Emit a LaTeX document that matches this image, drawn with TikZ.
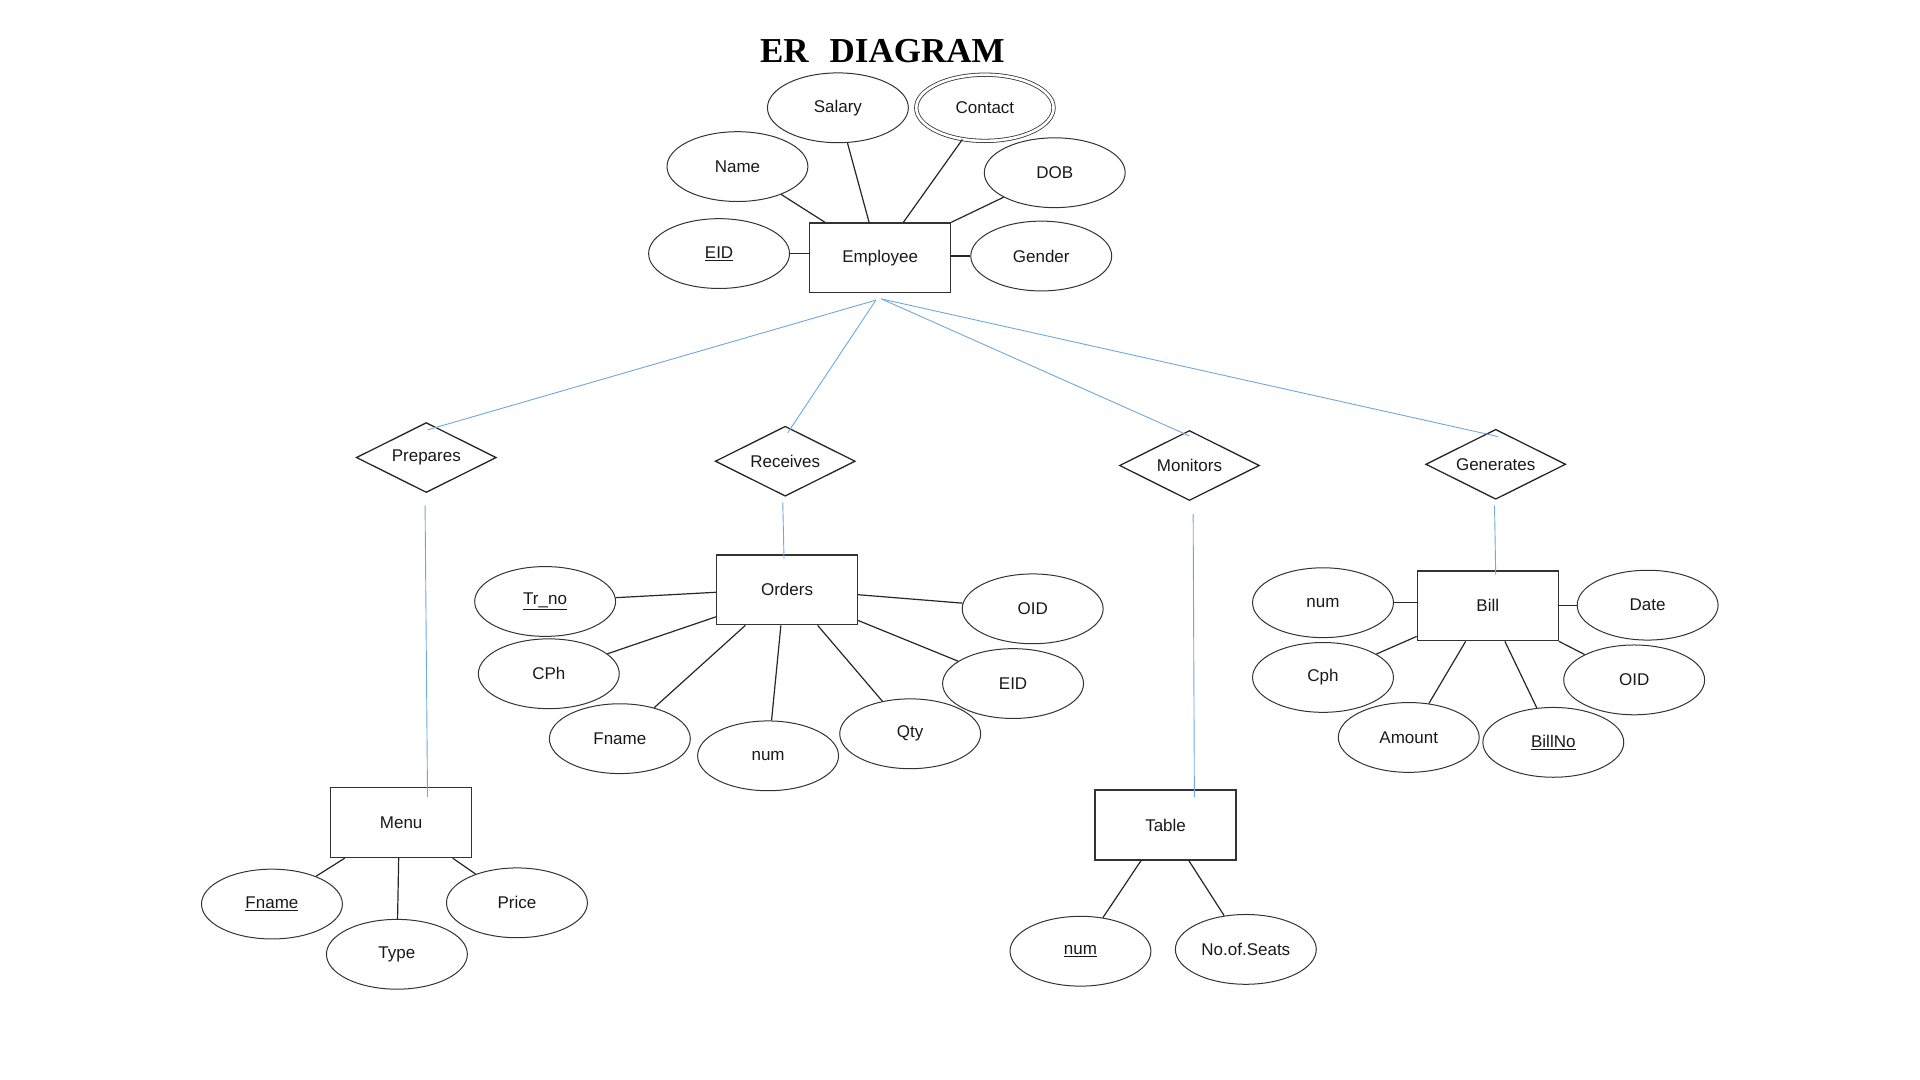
\documentclass[tikz,border=0pt]{standalone}
\usepackage{fontspec}
\setmainfont{Liberation Sans}
\newfontfamily\titlefont{Liberation Serif}
\usetikzlibrary{shapes.geometric,calc}
\definecolor{bluec}{RGB}{111,168,220}
\begin{document}
\begin{tikzpicture}[x=1.225pt,y=-1.225pt,
  every node/.style={font=\fontsize{17}{20}\selectfont, text=black!90},
  ent/.style={draw=black!80, line width=1.3pt, minimum width=140.9pt, minimum height=69.8pt, inner sep=0pt},
  attr/.style={ellipse, draw=black!80, line width=1pt, minimum width=140.9pt, minimum height=69.8pt, inner sep=0pt},
  multattr/.style={ellipse, draw=black!80, line width=0.8pt, double, double distance=2.6pt, minimum width=137.3pt, minimum height=66.2pt, inner sep=0pt},
  rel/.style={diamond, aspect=2, draw=black!85, line width=1.3pt, minimum width=140pt, minimum height=70pt, inner sep=0pt},
  link/.style={line width=1.2pt, draw=black!85},
  blink/.style={line width=0.9pt, draw=bluec}
]
\useasboundingbox (0,0) rectangle (1567.35,881.63);

% title
\node[anchor=base, font=\titlefont\bfseries\fontsize{35}{40}\selectfont, text=black] (title) at (720.3,51.2) {ER\hspace{0.6em}DIAGRAM};

% ---------- Employee ----------
\node[ent] (emp) at (718.5,210.5) {Employee};
\node[attr] (eid) at (587,207) {\underline{EID}};
\node[attr] (ename) at (602,136) {Name};
\node[attr] (salary) at (684,88) {Salary};
\node[multattr] (contact) at (804,88) {Contact};
\node[attr] (dob) at (861,141) {DOB};
\node[attr] (gender) at (850,209) {Gender};

\draw[link] (eid.east) -- (eid.east -| emp.west);
\draw[link] (gender.west) -- (gender.west -| emp.east);
\draw[link] (ename) -- ($(emp.north west)+(13,0)$);
\draw[link] (salary) -- ($(emp.north west)+(49,0)$);
\draw[link] (contact) -- ($(emp.north west)+(77,0)$);
\draw[link] (dob) -- (emp.north east);

% ---------- Relationships ----------
\node[rel] (prep) at (348,373.5) {Prepares};
\node[rel] (recv) at (641,376.5) {Receives};
\node[rel] (moni) at (971,380) {Monitors};
\node[rel] (gene) at (1221,379) {Generates};

\coordinate (ea1) at ($(emp.south)+(-3.5,5.5)$);
\coordinate (ea2) at ($(emp.south)+(1,4.5)$);
\draw[blink] (ea1) -- ($(prep.north)+(1,6.5)$);
\draw[blink] (ea1) -- ($(recv.north)+(2,6)$);
\draw[blink] (ea2) -- ($(moni.north)+(0,5)$);
\draw[blink] (ea2) -- ($(gene.north)+(2,6.5)$);

% ---------- Entities ----------
\node[ent] (menu) at (327.5,671.5) {Menu};
\node[ent] (orders) at (642.5,481.5) {Orders};
\node[ent] (table) at (951.5,673.5) {Table};
\node[ent] (bill) at (1214.5,494.5) {Bill};

\draw[blink] ($(prep.south)+(-1,10)$) -- ($(menu.north)+(21.5,8)$);
\draw[blink] ($(recv.south)+(-2,4.5)$) -- ($(orders.north)+(-2.5,4)$);
\draw[blink] ($(moni.south)+(3,10.5)$) -- ($(table.north)+(23.5,6)$);
\draw[blink] ($(gene.south)+(-1,4.5)$) -- ($(bill.north)+(6.5,4)$);

% ---------- Orders attributes ----------
\node[attr] (trno) at (445,491) {\underline{Tr\_no}};
\node[attr] (cph) at (448,550) {CPh};
\node[attr] (ofname) at (506,603) {Fname};
\node[attr] (onum) at (627,617) {num};
\node[attr] (qty) at (743,599) {Qty};
\node[attr] (oeid) at (827,558) {EID};
\node[attr] (ooid) at (843,497) {OID};

\draw[link] (trno) -- ($(orders.north west)+(0,31)$);
\draw[link] (cph) -- ($(orders.south west)+(0,-7)$);
\draw[link] (ofname) -- ($(orders.south west)+(24,0)$);
\draw[link] (onum) -- ($(orders.south west)+(53,0)$);
\draw[link] (qty) -- ($(orders.south west)+(83,0)$);
\draw[link] (oeid) -- ($(orders.south east)+(0,-4)$);
\draw[link] (ooid) -- ($(orders.north east)+(0,33)$);

% ---------- Menu attributes ----------
\node[attr] (mfname) at (222,738) {\underline{Fname}};
\node[attr] (mtype) at (324,779) {Type};
\node[attr] (mprice) at (422,737) {Price};

\draw[link] (mfname) -- ($(menu.south west)+(12,0)$);
\draw[link] (mtype) -- ($(menu.south west)+(56,0)$);
\draw[link] (mprice) -- ($(menu.south east)+(-16,0)$);

% ---------- Table attributes ----------
\node[attr] (tnum) at (882,776.5) {\underline{num}};
\node[attr] (tseats) at (1017,775) {No.of.Seats};

\draw[link] (tnum) -- ($(table.south west)+(38,0)$);
\draw[link] (tseats) -- ($(table.south west)+(77,0)$);

% ---------- Bill attributes ----------
\node[attr] (bnum) at (1080,492) {num};
\node[attr] (bdate) at (1345,494) {Date};
\node[attr] (bcph) at (1080,553) {Cph};
\node[attr] (boid) at (1334,555) {OID};
\node[attr] (bamount) at (1150,602) {Amount};
\node[attr] (bno) at (1268,606) {\underline{BillNo}};

\draw[link] (bnum.east) -- (bnum.east -| bill.west);
\draw[link] (bdate.west) -- (bdate.west -| bill.east);
\draw[link] (bcph) -- ($(bill.south west)+(0,-4)$);
\draw[link] (boid) -- (bill.south east);
\draw[link] (bamount) -- ($(bill.south west)+(40,0)$);
\draw[link] (bno) -- ($(bill.south west)+(72,0)$);
\end{tikzpicture}
\end{document}
